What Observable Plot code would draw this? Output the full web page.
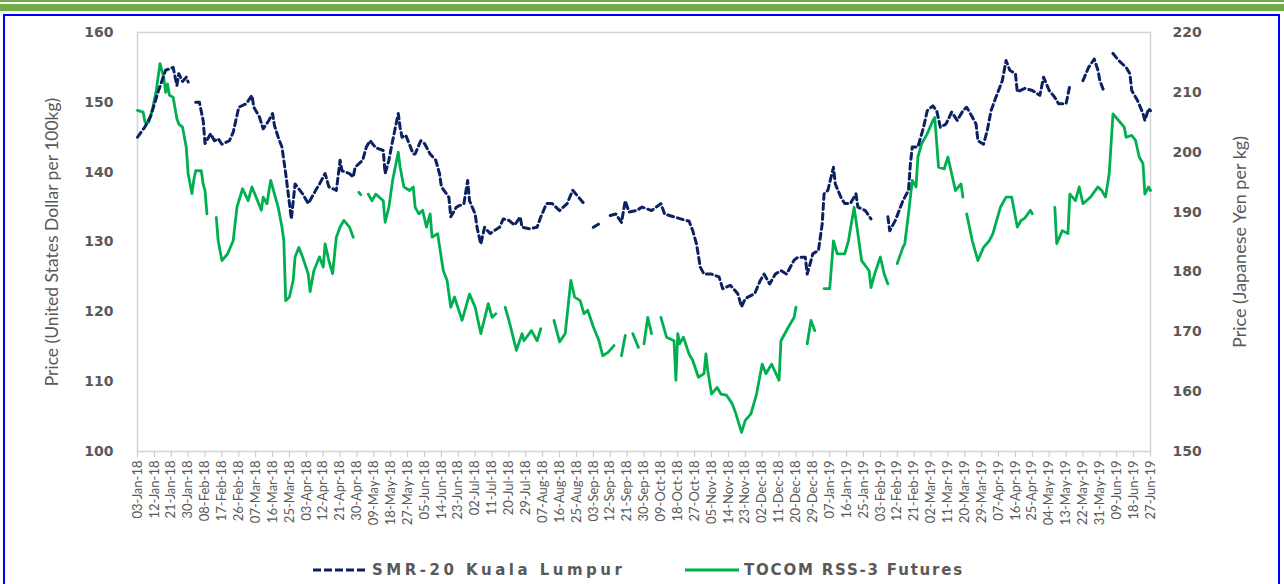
<!DOCTYPE html>
<html><head><meta charset="utf-8">
<script src="https://cdn.jsdelivr.net/npm/d3@7"></script>
<script src="https://cdn.jsdelivr.net/npm/@observablehq/plot@0.6"></script>
<style>
body{margin:0;background:#fff;width:1284px;height:584px;overflow:hidden;position:relative;font-family:Lato,sans-serif}
#g1{position:absolute;left:0;top:0;width:1284px;height:2px;background:#70ad47}
#g2{position:absolute;left:0;top:4px;width:1284px;height:7px;background:#70ad47}
#box{position:absolute;left:3px;top:14px;width:1273px;height:620px;border:2px solid #0000ff}
#chart{position:absolute;left:0;top:0}
.leg{position:absolute;top:560px;height:20px;display:flex;align-items:center;font-family:"DejaVu Sans",sans-serif;font-weight:bold;font-size:15px;color:#595959;white-space:nowrap}
</style></head>
<body>
<div id="g1"></div><div id="g2"></div><div id="box"></div>
<div id="chart"></div>
<div class="leg" id="leg1" style="left:313px;letter-spacing:3.5px"></div>
<div class="leg" id="leg2" style="left:685px;letter-spacing:1.8px"></div>
<script>
const seriesNames = ["SMR-20 Kuala Lumpur", "TOCOM RSS-3 Futures"];
const leftTitle = "Price (United States Dollar per 100kg)";
const rightTitle = "Price (Japanese Yen per kg)";
const leftTicks = [100, 110, 120, 130, 140, 150, 160];
const rightTicks = [150, 160, 170, 180, 190, 200, 210, 220];
const xTickLabels = ["03-Jan-18","12-Jan-18","21-Jan-18","30-Jan-18","08-Feb-18","17-Feb-18","26-Feb-18","07-Mar-18","16-Mar-18","25-Mar-18","03-Apr-18","12-Apr-18","21-Apr-18","30-Apr-18","09-May-18","18-May-18","27-May-18","05-Jun-18","14-Jun-18","23-Jun-18","02-Jul-18","11-Jul-18","20-Jul-18","29-Jul-18","07-Aug-18","16-Aug-18","25-Aug-18","03-Sep-18","12-Sep-18","21-Sep-18","30-Sep-18","09-Oct-18","18-Oct-18","27-Oct-18","05-Nov-18","14-Nov-18","23-Nov-18","02-Dec-18","11-Dec-18","20-Dec-18","29-Dec-18","07-Jan-19","16-Jan-19","25-Jan-19","03-Feb-19","12-Feb-19","21-Feb-19","02-Mar-19","11-Mar-19","20-Mar-19","29-Mar-19","07-Apr-19","16-Apr-19","25-Apr-19","04-May-19","13-May-19","22-May-19","31-May-19","09-Jun-19","18-Jun-19","27-Jun-19"];

const smrDates = ["2018-01-03","2018-01-07","2018-01-10","2018-01-14","2018-01-18","2018-01-22","2018-01-24","2018-01-25","2018-01-27","2018-01-29","2018-01-30","2018-02-01","2018-02-03","2018-02-05","2018-02-07","2018-02-08","2018-02-11","2018-02-13","2018-02-15","2018-02-17","2018-02-21","2018-02-23","2018-02-26","2018-03-02","2018-03-05","2018-03-06","2018-03-09","2018-03-11","2018-03-14","2018-03-16","2018-03-17","2018-03-19","2018-03-21","2018-03-23","2018-03-25","2018-03-26","2018-03-28","2018-04-01","2018-04-04","2018-04-08","2018-04-10","2018-04-13","2018-04-15","2018-04-19","2018-04-21","2018-04-22","2018-04-26","2018-04-28","2018-04-29","2018-05-03","2018-05-05","2018-05-07","2018-05-10","2018-05-14","2018-05-15","2018-05-17","2018-05-19","2018-05-22","2018-05-23","2018-05-24","2018-05-26","2018-05-30","2018-05-31","2018-06-03","2018-06-05","2018-06-08","2018-06-11","2018-06-13","2018-06-14","2018-06-18","2018-06-19","2018-06-22","2018-06-26","2018-06-28","2018-06-29","2018-07-02","2018-07-03","2018-07-05","2018-07-07","2018-07-10","2018-07-12","2018-07-15","2018-07-17","2018-07-20","2018-07-23","2018-07-26","2018-07-27","2018-07-31","2018-08-04","2018-08-06","2018-08-09","2018-08-12","2018-08-16","2018-08-20","2018-08-23","2018-08-29","2018-09-01","2018-09-03","2018-09-06","2018-09-08","2018-09-12","2018-09-15","2018-09-18","2018-09-20","2018-09-22","2018-09-26","2018-09-29","2018-10-04","2018-10-09","2018-10-11","2018-10-16","2018-10-22","2018-10-24","2018-10-26","2018-10-28","2018-10-30","2018-11-01","2018-11-05","2018-11-09","2018-11-11","2018-11-15","2018-11-19","2018-11-21","2018-11-23","2018-11-28","2018-12-01","2018-12-03","2018-12-06","2018-12-09","2018-12-12","2018-12-15","2018-12-19","2018-12-21","2018-12-25","2018-12-26","2018-12-29","2019-01-01","2019-01-03","2019-01-04","2019-01-06","2019-01-09","2019-01-10","2019-01-13","2019-01-15","2019-01-18","2019-01-21","2019-01-22","2019-01-26","2019-01-29","2019-02-03","2019-02-07","2019-02-08","2019-02-11","2019-02-13","2019-02-15","2019-02-18","2019-02-19","2019-02-20","2019-02-23","2019-02-26","2019-02-28","2019-03-03","2019-03-05","2019-03-07","2019-03-10","2019-03-13","2019-03-16","2019-03-19","2019-03-21","2019-03-24","2019-03-26","2019-03-27","2019-03-30","2019-04-01","2019-04-03","2019-04-05","2019-04-07","2019-04-09","2019-04-11","2019-04-13","2019-04-16","2019-04-17","2019-04-21","2019-04-25","2019-04-29","2019-05-01","2019-05-04","2019-05-07","2019-05-09","2019-05-13","2019-05-15","2019-05-18","2019-05-22","2019-05-25","2019-05-28","2019-05-30","2019-05-31","2019-06-02","2019-06-04","2019-06-07","2019-06-10","2019-06-14","2019-06-16","2019-06-17","2019-06-20","2019-06-23","2019-06-24","2019-06-26","2019-06-27"];
const smrValues = [145.0,146.5,148.0,151.5,154.6,155.0,152.4,154.1,153.0,153.6,152.9,null,150.0,150.0,147.4,144.1,145.5,144.5,144.8,144.0,144.5,145.7,149.3,149.8,151.0,149.3,147.9,146.2,147.4,148.4,146.7,145.0,143.6,139.8,135.5,133.3,138.3,136.9,135.5,137.4,138.3,139.8,137.9,137.4,141.7,140.2,139.8,139.3,140.7,141.7,143.6,144.5,143.5,143.1,139.8,141.7,144.5,148.4,146.4,145.0,145.3,142.6,142.6,144.5,144.1,142.6,141.7,139.8,137.9,136.4,133.6,135.0,135.5,138.8,135.9,134.0,132.1,129.7,132.1,131.2,131.6,132.1,133.3,133.1,132.4,133.6,132.1,131.9,132.1,133.6,135.5,135.5,134.5,135.5,137.4,135.5,null,132.1,132.6,null,133.8,134.0,132.8,135.9,134.3,134.5,135.0,134.5,135.5,134.0,133.6,133.1,133.0,131.6,129.7,126.4,125.4,125.4,125.0,123.3,123.8,122.6,120.7,121.9,122.6,124.5,125.4,124.0,125.4,125.9,125.4,127.4,127.8,127.8,125.4,128.3,128.8,132.6,136.9,137.4,140.7,138.3,136.4,135.5,135.5,136.9,135.0,134.5,133.3,null,133.6,131.6,133.1,134.5,135.9,137.4,141.2,143.6,143.6,146.4,148.8,149.5,148.8,146.4,146.9,148.6,147.4,148.8,149.3,147.9,146.9,144.5,144.0,146.0,148.8,150.3,151.7,153.1,156.0,154.6,154.1,151.5,152.0,151.7,151.0,153.6,151.7,150.7,149.8,149.8,152.4,null,153.1,155.0,156.2,154.6,153.1,151.7,null,157.0,156.0,155.0,154.1,151.7,150.3,148.4,147.4,149.1,148.8];

const tocomDates = ["2018-01-03","2018-01-06","2018-01-07","2018-01-09","2018-01-11","2018-01-13","2018-01-15","2018-01-17","2018-01-18","2018-01-19","2018-01-20","2018-01-22","2018-01-24","2018-01-25","2018-01-27","2018-01-29","2018-01-30","2018-02-01","2018-02-02","2018-02-03","2018-02-06","2018-02-07","2018-02-08","2018-02-09","2018-02-11","2018-02-14","2018-02-15","2018-02-17","2018-02-20","2018-02-23","2018-02-25","2018-02-28","2018-03-03","2018-03-05","2018-03-08","2018-03-10","2018-03-11","2018-03-13","2018-03-15","2018-03-18","2018-03-19","2018-03-21","2018-03-22","2018-03-23","2018-03-25","2018-03-27","2018-03-28","2018-03-30","2018-04-01","2018-04-04","2018-04-05","2018-04-07","2018-04-10","2018-04-12","2018-04-13","2018-04-15","2018-04-17","2018-04-19","2018-04-21","2018-04-23","2018-04-26","2018-04-28","2018-04-29","2018-05-01","2018-05-02","2018-05-04","2018-05-06","2018-05-08","2018-05-10","2018-05-14","2018-05-15","2018-05-17","2018-05-19","2018-05-22","2018-05-23","2018-05-25","2018-05-28","2018-05-30","2018-05-31","2018-06-02","2018-06-04","2018-06-06","2018-06-08","2018-06-09","2018-06-12","2018-06-15","2018-06-17","2018-06-19","2018-06-21","2018-06-25","2018-06-29","2018-07-02","2018-07-05","2018-07-09","2018-07-11","2018-07-13","2018-07-15","2018-07-18","2018-07-20","2018-07-24","2018-07-27","2018-07-28","2018-08-01","2018-08-04","2018-08-06","2018-08-09","2018-08-13","2018-08-16","2018-08-19","2018-08-22","2018-08-24","2018-08-27","2018-08-29","2018-08-31","2018-09-03","2018-09-06","2018-09-08","2018-09-11","2018-09-14","2018-09-16","2018-09-18","2018-09-20","2018-09-22","2018-09-24","2018-09-27","2018-09-29","2018-09-30","2018-10-02","2018-10-04","2018-10-06","2018-10-09","2018-10-12","2018-10-16","2018-10-17","2018-10-18","2018-10-19","2018-10-21","2018-10-24","2018-10-26","2018-10-29","2018-11-01","2018-11-02","2018-11-03","2018-11-05","2018-11-08","2018-11-10","2018-11-13","2018-11-16","2018-11-18","2018-11-21","2018-11-23","2018-11-26","2018-11-29","2018-12-02","2018-12-04","2018-12-07","2018-12-11","2018-12-12","2018-12-16","2018-12-19","2018-12-20","2018-12-22","2018-12-26","2018-12-28","2018-12-30","2019-01-01","2019-01-04","2019-01-07","2019-01-09","2019-01-11","2019-01-15","2019-01-17","2019-01-20","2019-01-22","2019-01-24","2019-01-28","2019-01-29","2019-01-31","2019-02-03","2019-02-05","2019-02-07","2019-02-09","2019-02-12","2019-02-15","2019-02-16","2019-02-18","2019-02-20","2019-02-22","2019-02-23","2019-02-25","2019-02-28","2019-03-03","2019-03-04","2019-03-06","2019-03-09","2019-03-11","2019-03-13","2019-03-15","2019-03-18","2019-03-19","2019-03-20","2019-03-21","2019-03-24","2019-03-27","2019-03-30","2019-04-02","2019-04-04","2019-04-06","2019-04-08","2019-04-11","2019-04-14","2019-04-17","2019-04-19","2019-04-21","2019-04-24","2019-04-25","2019-04-28","2019-05-07","2019-05-08","2019-05-11","2019-05-14","2019-05-15","2019-05-18","2019-05-20","2019-05-22","2019-05-26","2019-05-30","2019-06-01","2019-06-03","2019-06-05","2019-06-07","2019-06-10","2019-06-13","2019-06-14","2019-06-17","2019-06-19","2019-06-21","2019-06-23","2019-06-24","2019-06-26","2019-06-27"];
const tocomValues = [207.0,206.7,205.0,205.0,207.2,210.3,214.8,212.5,210.0,211.4,209.5,209.2,205.6,204.7,204.2,200.8,196.4,193.1,195.3,196.9,196.9,194.7,193.6,189.7,null,189.1,185.2,181.9,183.0,185.2,190.8,193.9,191.9,194.2,191.9,190.3,192.5,191.4,195.3,191.9,190.8,187.5,185.2,175.2,175.8,178.6,182.5,184.1,182.5,179.7,176.7,180.2,182.5,180.8,184.7,181.9,179.7,185.8,187.5,188.6,187.5,185.8,null,193.3,192.9,null,193.0,191.9,193.0,191.9,188.3,190.8,195.3,200.0,197.5,194.2,193.6,194.2,190.8,189.7,190.3,187.5,189.7,185.8,186.4,180.2,178.6,174.1,175.8,171.9,176.3,174.1,169.7,174.7,172.4,173.0,null,174.1,171.9,166.9,169.7,168.5,170.2,168.5,170.5,null,171.9,168.3,169.7,178.6,175.8,175.2,173.0,173.6,170.8,168.5,166.0,166.6,167.7,null,166.0,169.4,null,169.7,167.4,null,168.0,172.4,169.7,null,172.4,169.1,168.5,161.9,169.7,168.0,169.1,166.3,165.2,162.4,163.0,166.3,163.5,159.6,160.7,159.6,159.4,158.0,156.3,153.2,155.2,156.3,159.6,164.6,163.0,164.6,161.9,168.5,170.8,172.4,174.1,null,168.0,171.9,170.2,null,177.2,177.2,185.2,183.0,183.0,185.2,190.8,186.4,181.9,180.2,177.4,179.7,182.5,179.7,178.0,null,181.4,184.1,184.7,189.7,195.3,194.2,199.2,201.4,203.1,205.3,205.8,197.5,197.2,199.2,196.4,193.6,194.7,192.5,null,189.7,185.2,181.9,184.1,185.2,186.4,188.6,190.8,192.5,192.5,187.5,188.6,189.0,190.3,189.7,null,190.8,184.7,186.9,186.4,193.0,191.9,194.2,191.4,192.5,194.2,193.6,192.5,196.4,206.4,205.3,204.2,202.5,202.8,202.0,199.2,198.1,193.0,194.2,193.6];

const NAVY = "#0c2161", GREEN = "#00b050", GREY = "#595959";
const parse = d3.utcParse("%Y-%m-%d");
const parseTick = d3.utcParse("%d-%b-%y");
const fmtTick = d3.utcFormat("%d-%b-%y");
// right axis (JPY) mapped onto the left axis (USD) range
const toLeft = r => 100 + (r - 150) * 60 / 70;
const fromLeft = v => 150 + (v - 100) * 70 / 60;

const smr = smrDates.map((d, i) => ({date: parse(d), value: smrValues[i]}));
const tocom = tocomDates.map((d, i) => ({date: parse(d), value: tocomValues[i] == null ? null : toLeft(tocomValues[i])}));
const tickDates = xTickLabels.map(parseTick);

const chart = Plot.plot({
  width: 1284, height: 545,
  marginTop: 32, marginBottom: 94, marginLeft: 137, marginRight: 134,
  x: {type: "utc", domain: [tickDates[0], tickDates[tickDates.length - 1]]},
  y: {domain: [leftTicks[0], leftTicks[leftTicks.length - 1]]},
  style: {fontFamily: "Lato, sans-serif", background: "transparent", color: GREY, overflow: "visible"},
  marks: [
    Plot.frame({stroke: "#d4d4d4", strokeWidth: 1.5}),
    Plot.axisX({ticks: tickDates, tickFormat: fmtTick, tickRotate: -90, tickSize: 6, tickPadding: 3,
      fontSize: 13, label: null, stroke: "#c8c8c8", fill: GREY}),
    Plot.axisY({ticks: leftTicks, tickSize: 0, tickPadding: 24, fontSize: 14, fontWeight: "bold",
      fontFamily: "DejaVu Sans, sans-serif", label: null, fill: GREY}),
    Plot.axisY({anchor: "right", ticks: rightTicks.map(toLeft), tickFormat: v => String(Math.round(fromLeft(v))),
      tickSize: 0, tickPadding: 22, fontSize: 14, fontWeight: "bold", fontFamily: "DejaVu Sans, sans-serif",
      label: null, fill: GREY}),
    Plot.text([leftTitle], {text: d => d, frameAnchor: "left", textAnchor: "middle", dx: -85, rotate: -90, fontSize: 17.5, fill: GREY}),
    Plot.text([rightTitle], {text: d => d, frameAnchor: "right", textAnchor: "middle", dx: 90, rotate: -90, fontSize: 18, fill: GREY}),
    Plot.line(tocom, {x: "date", y: "value", stroke: GREEN, strokeWidth: 2.8}),
    Plot.line(smr, {x: "date", y: "value", stroke: NAVY, strokeWidth: 3, strokeDasharray: "6,4"})
  ]
});
document.getElementById("chart").appendChild(chart);

function legendItem(id, name, color, dash) {
  const el = document.getElementById(id);
  el.innerHTML = `<svg width="54" height="6" style="margin-right:5px"><line x1="0" y1="3" x2="54" y2="3" stroke="${color}" stroke-width="3" ${dash ? 'stroke-dasharray="8,3"' : ''}/></svg><span>${name}</span>`;
}
legendItem("leg1", seriesNames[0], NAVY, true);
legendItem("leg2", seriesNames[1], GREEN, false);
</script>
</body></html>
